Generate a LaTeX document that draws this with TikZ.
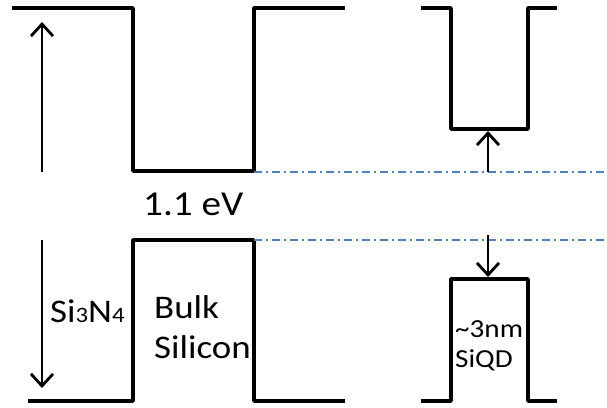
\documentclass[tikz,border=0pt]{standalone}
\usepackage{fontspec}
\setmainfont{Carlito}[FakeStretch=1.12]
\usetikzlibrary{arrows.meta}
\definecolor{levelblue}{RGB}{79,129,189}

\begin{document}
\begin{tikzpicture}[x=1pt, y=-1pt, >={Straight Barb[length=12pt,width=22pt]},
  band/.style={line width=3.6pt, line join=round},
  gap/.style={->, line width=2.8pt},
  level/.style={levelblue, line width=1.6pt, dash pattern=on 8pt off 4pt on 2pt off 4pt},
  lbl/.style={anchor=base west, inner sep=0pt, font=\fontsize{33}{40}\selectfont}]

\useasboundingbox (0,0) rectangle (607,407);

% Bulk silicon: conduction and valence band edges
\draw[band] (12,8) -- (133,8) -- (133,171) -- (254,171) -- (254,8) -- (345,8);
\draw[band] (28,401) -- (133,401) -- (133,240) -- (254,240) -- (254,401) -- (345,401);

% Quantum dot: conduction and valence band edges
\draw[band] (421,8) -- (451,8) -- (451,129) -- (528,129) -- (528,8) -- (557,8);
\draw[band] (421,401) -- (451,401) -- (451,279) -- (528,279) -- (528,401) -- (557,401);

% Reference levels of bulk silicon
\coordinate (ec) at (254,172);
\coordinate (ecend) at (607,172);
\coordinate (ev) at (254,240);
\coordinate (evend) at (607,240);
\draw[level] (ec) -- (ecend);
\draw[level] (ev) -- (evend);

% Arrow end points
\coordinate (nc0) at (42,172);
\coordinate (nc1) at (42,22);
\coordinate (nv0) at (42,240);
\coordinate (nv1) at (42,388);
\coordinate (qc0) at (488,172);
\coordinate (qc1) at (488,131);
\coordinate (qv0) at (488,235);
\coordinate (qv1) at (488,277);

% Band offsets
\draw[gap] (nc0) -- (nc1);
\draw[gap] (nv0) -- (nv1);
\draw[gap] (qc0) -- (qc1);
\draw[gap] (qv0) -- (qv1);

% Labels
\node[lbl, font=\fontsize{35}{40}\selectfont] (eg) at (143,215) {1.1 eV};
\node[lbl] (nitride) at (50,322) {Si{\fontsize{22}{22}\selectfont 3}N{\fontsize{22}{22}\selectfont 4}};
\node[lbl] (bulk) at (154,318) {Bulk};
\node[lbl] (silicon) at (154,358) {Silicon};
\node[lbl, font=\fontsize{26}{30}\selectfont] (size) at (455,337) {\~{}3nm};
\node[lbl, font=\fontsize{26}{30}\selectfont] (siqd) at (455,367) {SiQD};
\end{tikzpicture}
\end{document}
